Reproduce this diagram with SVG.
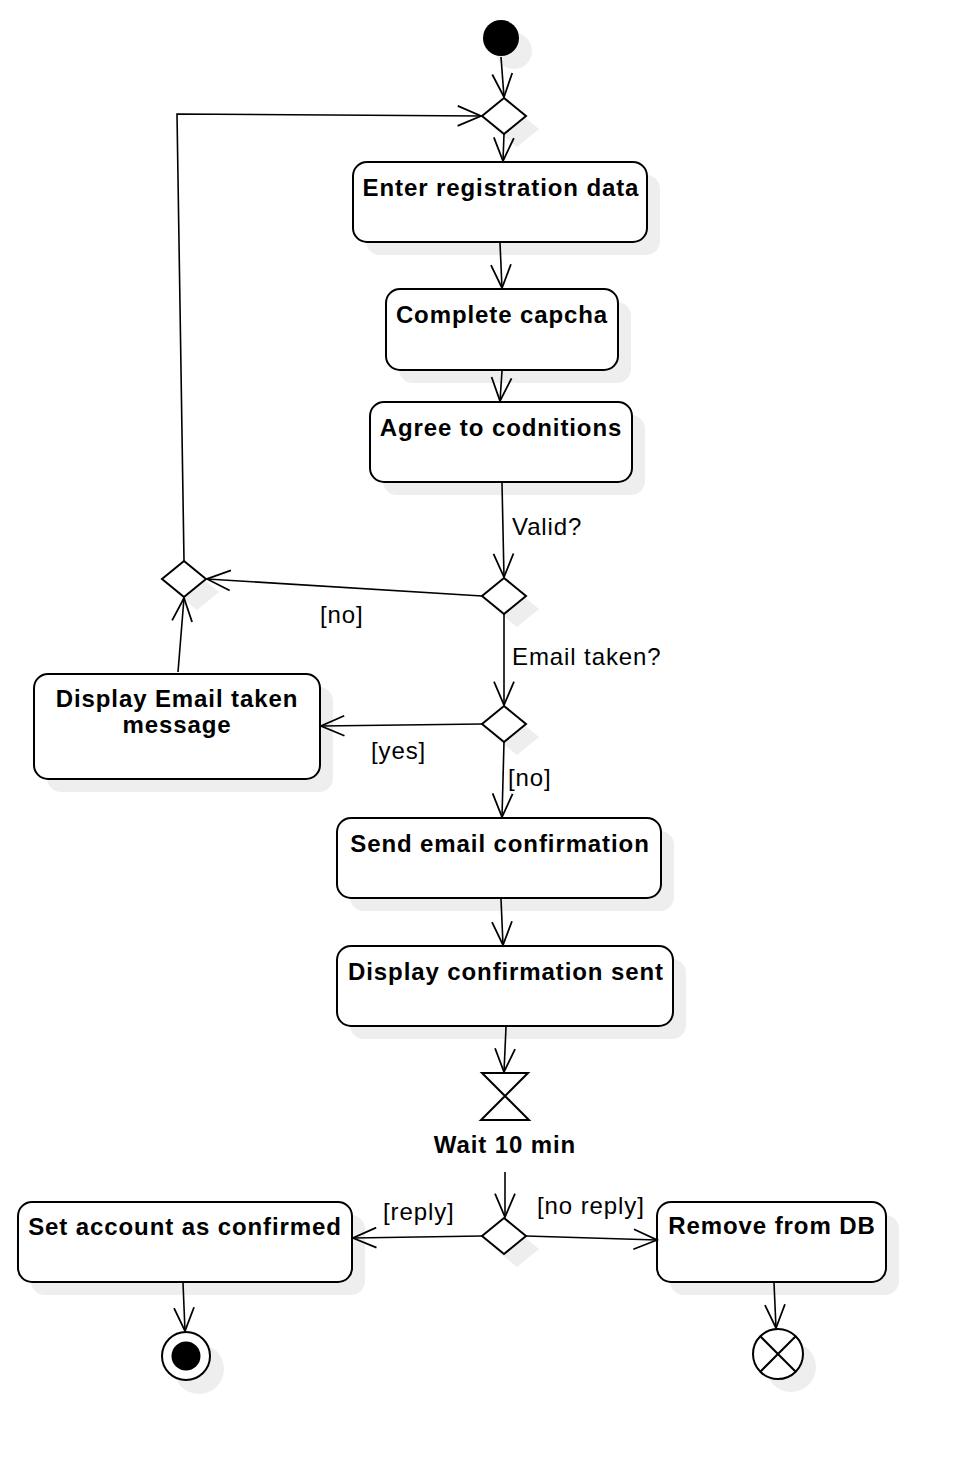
<svg xmlns="http://www.w3.org/2000/svg" width="968" height="1462" viewBox="0 0 968 1462">
<style>
.box{fill:#fff;stroke:#000;stroke-width:2}
.sh{fill:#eeeeee;stroke:none}
.t{font-family:"Liberation Sans",Arial,sans-serif;font-size:24px;font-weight:bold;letter-spacing:0.9px;text-anchor:middle;fill:#000}
.l{font-family:"Liberation Sans",Arial,sans-serif;font-size:24px;letter-spacing:0.9px;fill:#000}
.c{fill:none;stroke:#000;stroke-width:1.6}
</style>
<defs>
<marker id="a" markerUnits="userSpaceOnUse" markerWidth="30" markerHeight="30" refX="0" refY="0" orient="auto" viewBox="-25 -12 27 24" overflow="visible">
<path d="M-21,-9 L0,0 L-21,9" fill="none" stroke="#000" stroke-width="1.6"/>
</marker>
</defs>
<rect width="968" height="1462" fill="#fff"/>

<g id="start">
<circle class="sh" cx="514" cy="51" r="18"/>
<circle cx="501" cy="38" r="18" fill="#000"/>
</g>
<g id="merge1">
<polygon class="sh" points="517,111 539,129 517,147 495,129"/>
<polygon class="box" points="504,98 526,116 504,134 482,116"/>
</g>
<g id="enter">
<rect class="sh" x="366" y="175" width="294" height="80" rx="14"/>
<rect class="box" x="353" y="162" width="294" height="80" rx="14"/>
<text class="t" x="501" y="196">Enter registration data</text>
</g>
<g id="capcha">
<rect class="sh" x="399" y="302" width="232" height="81" rx="14"/>
<rect class="box" x="386" y="289" width="232" height="81" rx="14"/>
<text class="t" x="502" y="323">Complete capcha</text>
</g>
<g id="agree">
<rect class="sh" x="383" y="415" width="262" height="80" rx="14"/>
<rect class="box" x="370" y="402" width="262" height="80" rx="14"/>
<text class="t" x="501" y="436">Agree to codnitions</text>
</g>
<g id="valid">
<polygon class="sh" points="517,591 539,609 517,627 495,609"/>
<polygon class="box" points="504,578 526,596 504,614 482,596"/>
</g>
<g id="merge2">
<polygon class="sh" points="197,574 219,592 197,610 175,592"/>
<polygon class="box" points="184,561 206,579 184,597 162,579"/>
</g>
<g id="emailtaken">
<polygon class="sh" points="517,719 539,737 517,755 495,737"/>
<polygon class="box" points="504,706 526,724 504,742 482,724"/>
</g>
<g id="displayemail">
<rect class="sh" x="47" y="687" width="286" height="105" rx="14"/>
<rect class="box" x="34" y="674" width="286" height="105" rx="14"/>
<text class="t" x="177" y="707">Display Email taken</text>
<text class="t" x="177" y="733">message</text>
</g>
<g id="sendemail">
<rect class="sh" x="350" y="831" width="324" height="80" rx="14"/>
<rect class="box" x="337" y="818" width="324" height="80" rx="14"/>
<text class="t" x="500" y="852">Send email confirmation</text>
</g>
<g id="displayconf">
<rect class="sh" x="350" y="959" width="336" height="80" rx="14"/>
<rect class="box" x="337" y="946" width="336" height="80" rx="14"/>
<text class="t" x="506" y="980">Display confirmation sent</text>
</g>
<g id="wait">
<path d="M482,1073 H528 L481,1120 H529 Z" fill="#fff" stroke="#000" stroke-width="2" stroke-linejoin="miter"/>
<text class="t" x="505" y="1153">Wait 10 min</text>
</g>
<g id="decision">
<polygon class="sh" points="517,1231 539,1249 517,1267 495,1249"/>
<polygon class="box" points="504,1218 526,1236 504,1254 482,1236"/>
</g>
<g id="setconfirmed">
<rect class="sh" x="31" y="1215" width="334" height="80" rx="14"/>
<rect class="box" x="18" y="1202" width="334" height="80" rx="14"/>
<text class="t" x="185" y="1235">Set account as confirmed</text>
</g>
<g id="removedb">
<rect class="sh" x="670" y="1215" width="229" height="80" rx="14"/>
<rect class="box" x="657" y="1202" width="229" height="80" rx="14"/>
<text class="t" x="772" y="1234">Remove from DB</text>
</g>
<g id="final">
<circle class="sh" cx="199" cy="1369" r="25"/>
<circle class="box" cx="186" cy="1356" r="24"/>
<circle cx="186" cy="1356" r="14.5" fill="#000"/>
</g>
<g id="flowfinal">
<circle class="sh" cx="791" cy="1367" r="25"/>
<circle class="box" cx="778" cy="1354" r="25"/>
<path d="M760.3,1336.3 L795.7,1371.7 M795.7,1336.3 L760.3,1371.7" stroke="#000" stroke-width="2" fill="none"/>
</g>

<g id="connectors">
<line class="c" x1="501" y1="57" x2="504" y2="97" marker-end="url(#a)"/>
<line class="c" x1="504" y1="134" x2="503" y2="161" marker-end="url(#a)"/>
<polyline class="c" points="184,561 177,114 481,116" marker-end="url(#a)"/>
<line class="c" x1="500" y1="243" x2="502" y2="288" marker-end="url(#a)"/>
<line class="c" x1="502" y1="371" x2="500" y2="401" marker-end="url(#a)"/>
<line class="c" x1="502" y1="483" x2="504" y2="577" marker-end="url(#a)"/>
<line class="c" x1="482" y1="596" x2="207" y2="579" marker-end="url(#a)"/>
<line class="c" x1="504" y1="614" x2="504" y2="705" marker-end="url(#a)"/>
<line class="c" x1="482" y1="724" x2="321" y2="726" marker-end="url(#a)"/>
<line class="c" x1="178" y1="672" x2="184" y2="598" marker-end="url(#a)"/>
<line class="c" x1="504" y1="742" x2="502" y2="817" marker-end="url(#a)"/>
<line class="c" x1="501" y1="899" x2="503" y2="945" marker-end="url(#a)"/>
<line class="c" x1="506" y1="1027" x2="504" y2="1072" marker-end="url(#a)"/>
<line class="c" x1="505" y1="1172" x2="505" y2="1217" marker-end="url(#a)"/>
<line class="c" x1="482" y1="1236" x2="353" y2="1238" marker-end="url(#a)"/>
<line class="c" x1="526" y1="1236" x2="657" y2="1240" marker-end="url(#a)"/>
<line class="c" x1="183" y1="1283" x2="185" y2="1331" marker-end="url(#a)"/>
<line class="c" x1="774" y1="1283" x2="776" y2="1328" marker-end="url(#a)"/>
<text class="l" x="512" y="535">Valid?</text>
<text class="l" x="320" y="623">[no]</text>
<text class="l" x="512" y="665">Email taken?</text>
<text class="l" x="371" y="759">[yes]</text>
<text class="l" x="508" y="786">[no]</text>
<text class="l" x="383" y="1220">[reply]</text>
<text class="l" x="537" y="1214">[no reply]</text>
</g>
</svg>
